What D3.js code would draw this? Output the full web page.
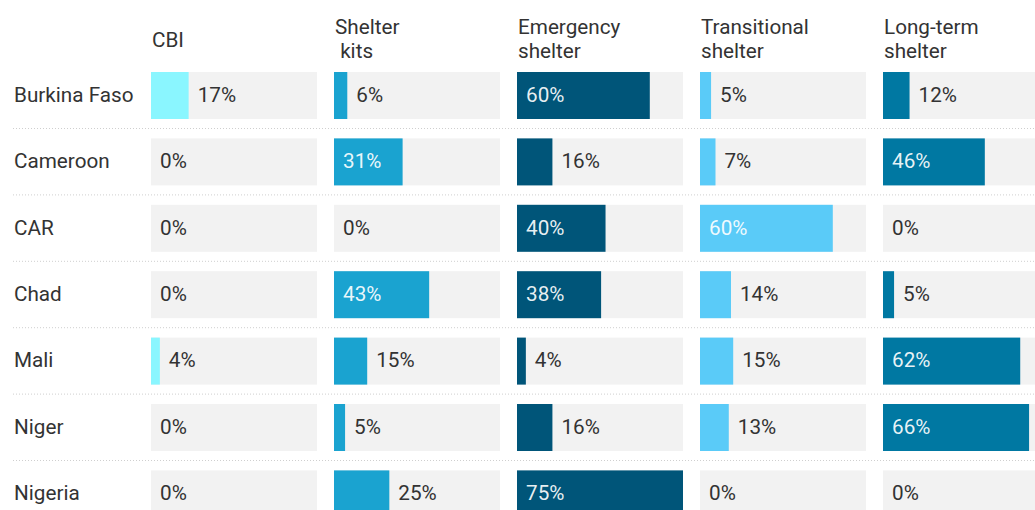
<!DOCTYPE html>
<html>
<head>
    <meta charset="utf-8">
    <title>Shelter response by country</title>
    <script src="https://d3js.org/d3.v7.min.js"></script>
    <style>
        body { margin: 0; background: #fff; overflow: hidden; }
        text { font-family: Roboto, "Noto Sans", sans-serif; font-size: 20.7px; }
    </style>
</head>
<body>
    <svg id="chart"></svg>
    <script>
        // data (percent)
        var countries = ["Burkina Faso", "Cameroon", "CAR", "Chad", "Mali", "Niger", "Nigeria"];
        var columns = ["CBI", "Shelter kits", "Emergency shelter", "Transitional shelter", "Long-term shelter"];
        var headerLines = [["CBI"], ["Shelter", " kits"], ["Emergency", "shelter"], ["Transitional", "shelter"], ["Long-term", "shelter"]];
        var cbi = [17, 0, 0, 0, 4, 0, 0];
        var shelterKits = [6, 31, 0, 43, 15, 5, 25];
        var emergency = [60, 16, 40, 38, 4, 16, 75];
        var transitional = [5, 7, 60, 14, 15, 13, 0];
        var longTerm = [12, 46, 0, 5, 62, 66, 0];
        var colors = ["#8af6ff", "#1aa3d0", "#005579", "#5acbf8", "#0078a2"];

        var series = [cbi, shelterKits, emergency, transitional, longTerm];

        var width = 1035, height = 510;
        var svg = d3.select("#chart").attr("width", width).attr("height", height);

        // columns: 166px wide, 17px apart
        var xCol = d3.scaleBand()
            .domain(columns)
            .range([151, 1049])
            .paddingInner(17 / 183)
            .paddingOuter(0);
        var colW = xCol.bandwidth();

        // max value (75%) fills the grey background
        var x = d3.scaleLinear().domain([0, 75]).range([0, colW]);

        var y = d3.scaleBand()
            .domain(countries)
            .range([72, 72 + 66.4 * 7 - 19.4])
            .paddingInner(19.4 / 66.4)
            .paddingOuter(0);
        var barH = y.bandwidth();

        // dotted separators between rows
        svg.selectAll("line.sep")
            .data(countries.slice(0, -1))
            .enter().append("line")
            .attr("class", "sep")
            .attr("x1", 13).attr("x2", width)
            .attr("y1", function (d) { return y(d) + barH + 9.5; })
            .attr("y2", function (d) { return y(d) + barH + 9.5; })
            .attr("stroke", "#cfcfcf")
            .attr("stroke-width", 1)
            .attr("stroke-dasharray", "1,2");

        // country labels
        svg.selectAll("text.country")
            .data(countries)
            .enter().append("text")
            .attr("class", "country")
            .attr("x", 14)
            .attr("y", function (d) { return y(d) + barH / 2 - 1; })
            .attr("dy", "0.35em")
            .attr("fill", "#333")
            .text(function (d) { return d; });

        // headers
        columns.forEach(function (col, ci) {
            var lines = headerLines[ci];
            var t = svg.append("text")
                .attr("x", xCol(col) + 1)
                .attr("fill", "#333")
                .style("white-space", "pre");
            var base = lines.length === 1 ? 46.5 : 34;
            lines.forEach(function (ln, li) {
                t.append("tspan")
                    .attr("x", xCol(col) + 1)
                    .attr("y", base + li * 24.3)
                    .text(ln);
            });
        });

        // bars
        columns.forEach(function (col, ci) {
            var g = svg.append("g");
            var vals = series[ci];
            var x0 = xCol(col);

            g.selectAll("rect.bg")
                .data(countries)
                .enter().append("rect")
                .attr("class", "bg")
                .attr("x", x0)
                .attr("y", function (d) { return y(d); })
                .attr("width", colW)
                .attr("height", barH)
                .attr("fill", "#f2f2f2");

            g.selectAll("rect.bar")
                .data(vals)
                .enter().append("rect")
                .attr("class", "bar")
                .attr("x", x0)
                .attr("y", function (d, i) { return y(countries[i]); })
                .attr("width", function (d) { return x(d); })
                .attr("height", barH)
                .attr("fill", colors[ci]);

            g.selectAll("text.val")
                .data(vals)
                .enter().append("text")
                .attr("class", "val")
                .attr("x", function (d) { return d >= 30 ? x0 + 9 : x0 + x(d) + 9; })
                .attr("y", function (d, i) { return y(countries[i]) + barH / 2 - 1; })
                .attr("dy", "0.35em")
                .attr("fill", function (d) { return d >= 30 ? "#fff" : "#333"; })
                .attr("fill-opacity", function (d) { return d >= 30 ? 0.92 : 1; })
                .text(function (d) { return d + "%"; });
        });
    </script>
</body>
</html>
